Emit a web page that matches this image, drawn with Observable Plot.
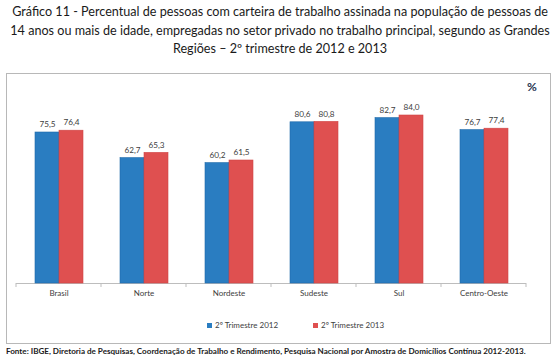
<!DOCTYPE html>
<html>
<head>
<meta charset="utf-8">
<script src="https://cdn.jsdelivr.net/npm/d3@7"></script>
<script src="https://cdn.jsdelivr.net/npm/@observablehq/plot@0.6"></script>
<style>
  body { margin: 0; background: #fff; }
  #wrap { position: relative; width: 560px; height: 360px; overflow: hidden; font-family: Lato, "Open Sans", sans-serif; }
  #title { position: absolute; left: 0; top: 3px; width: 560px; text-align: center; font-size: 12.6px; line-height: 18.5px; color: #1a1a1a; }
  #box { position: absolute; left: 6px; top: 73px; width: 545px; height: 271px; border: 1px solid #b8b8b8; box-sizing: border-box; }
  #pct { position: absolute; left: 527px; top: 79px; font-size: 12px; font-weight: bold; color: #1f3550; }
  #chart { position: absolute; left: 0; top: 0; }
  #legend { position: absolute; top: 320px; left: 0; width: 560px; font-size: 8px; color: #404040; }
  #legend span.item { position: absolute; white-space: nowrap; }
  #legend span.sw { display: inline-block; width: 5px; height: 5px; margin-right: 3px; vertical-align: 0px; }
  #source { position: absolute; left: 6px; top: 346px; font-size: 8.1px; font-weight: bold; color: #1a1a1a; white-space: nowrap; }
</style>
</head>
<body>
<div id="wrap">
  <div id="title"></div>
  <div id="box"></div>
  <div id="pct">%</div>
  <div id="chart"></div>
  <div id="legend"></div>
  <div id="source"></div>
</div>
<script>
const titleLines = [
  "Gráfico 11 - Percentual de pessoas com carteira de trabalho assinada na população de pessoas de",
  "14 anos ou mais de idade, empregadas no setor privado no trabalho principal, segundo as Grandes",
  "Regiões – 2º trimestre de 2012 e 2013"
];
const sourceText = "Fonte: IBGE, Diretoria de Pesquisas, Coordenação de Trabalho e Rendimento, Pesquisa Nacional por Amostra de Domicílios Contínua 2012-2013.";
const regions = ["Brasil", "Norte", "Nordeste", "Sudeste", "Sul", "Centro-Oeste"];
const series = ["2º Trimestre 2012", "2º Trimestre 2013"];
const values2012 = [75.5, 62.7, 60.2, 80.6, 82.7, 76.7];
const values2013 = [76.4, 65.3, 61.5, 80.8, 84.0, 77.4];
const colors = ["#2a7dc1", "#df5050"];
const strokes = ["#1f6aaa", "#d04545"];

const data = [];
regions.forEach((r, i) => {
  data.push({region: r, series: series[0], value: values2012[i]});
  data.push({region: r, series: series[1], value: values2013[i]});
});
const fmt = v => v.toFixed(1).replace(".", ",");

document.getElementById("title").innerHTML = titleLines.map(t => `<div>${t}</div>`).join("");
document.getElementById("source").textContent = sourceText;

const chart = Plot.plot({
  width: 560,
  height: 360,
  marginLeft: 15,
  marginRight: 33,
  marginTop: 103,
  marginBottom: 77,
  style: {background: "transparent", fontFamily: "Lato, 'Open Sans', sans-serif", fontSize: "8px", overflow: "visible"},
  fx: {domain: regions, padding: 0, label: null},
  x: {domain: series, paddingInner: 0, paddingOuter: 0.74, axis: null},
  y: {domain: [0, 90], axis: null},
  color: {domain: series, range: colors},
  marks: [
    Plot.ruleY([0], {stroke: "#bdbdbd", strokeWidth: 1}),
    Plot.barY(data, {fx: "region", x: "series", y: "value", fill: "series",
      stroke: d => strokes[series.indexOf(d.series)], strokeWidth: 0.6}),
    Plot.text(data, {fx: "region", x: "series", y: "value", text: d => fmt(d.value),
      dy: -8, fill: "#404040", fontSize: 8.2}),
    Plot.axisFx({anchor: "bottom", tickSize: 0, tickPadding: 7, fill: "#404040", fontSize: 8, label: null})
  ]
});
document.getElementById("chart").appendChild(chart);

// boundary tick marks between categories, placed with the fx / y scales
const fxs = chart.scale("fx");
const ys = chart.scale("y");
const y0 = ys.apply(0);
const bounds = regions.map(r => fxs.apply(r)).concat([fxs.apply(regions[regions.length - 1]) + fxs.bandwidth]);
d3.select(chart).append("g")
  .attr("stroke", "#bdbdbd")
  .selectAll("line")
  .data(bounds)
  .join("line")
  .attr("x1", d => d).attr("x2", d => d)
  .attr("y1", y0).attr("y2", y0 + 4);

// legend
const legendX = [207, 313];
const legend = d3.select("#legend");
series.forEach((s, i) => {
  const item = legend.append("span").attr("class", "item").style("left", legendX[i] + "px");
  item.append("span").attr("class", "sw").style("background", colors[i]);
  item.append("span").text(s);
});
</script>
</body>
</html>
